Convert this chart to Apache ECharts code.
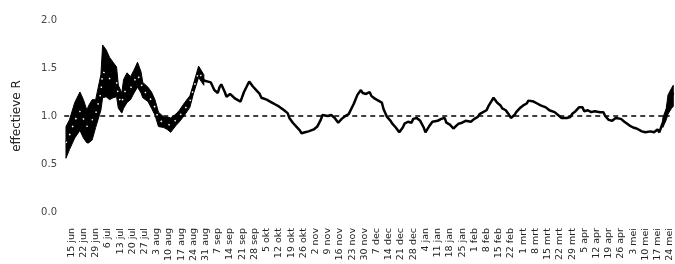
<!DOCTYPE html>
<html>
<head>
<meta charset="utf-8">
<script src="https://cdn.jsdelivr.net/npm/echarts@6/dist/echarts.min.js"></script>
<style>
  html, body { margin: 0; padding: 0; background: #fff; }
  #main { width: 675px; height: 264px; }
</style>
</head>
<body>
<div id="main"></div>
<script>
// days counted from 15 jun (day 0)
const tickLabels = ['15 jun', '22 jun', '29 jun', '6 jul', '13 jul', '20 jul', '27 jul', '3 aug', '10 aug',
  '17 aug', '24 aug', '31 aug', '7 sep', '14 sep', '21 sep', '28 sep', '5 okt', '12 okt', '19 okt', '26 okt',
  '2 nov', '9 nov', '16 nov', '23 nov', '30 nov', '7 dec', '14 dec', '21 dec', '28 dec', '4 jan', '11 jan',
  '18 jan', '25 jan', '1 feb', '8 feb', '15 feb', '22 feb', '1 mrt', '8 mrt', '15 mrt', '22 mrt', '29 mrt',
  '5 apr', '12 apr', '19 apr', '26 apr', '3 mei', '10 mei', '17 mei', '24 mei'];

const yTicks = [0, 0.5, 1, 1.5, 2];

// uncertainty band, first weeks
const bandDays = [-3, -1, 2, 5, 7, 9, 10, 12, 14, 17, 18, 20, 22, 24, 26, 27, 29, 30, 32, 34, 36, 38, 40, 41,
  44, 46, 48, 50, 53, 55, 57, 60, 62, 65, 68, 70, 73, 76];
const bandLow = [0.56, 0.65, 0.77, 0.85, 0.77, 0.72, 0.72, 0.75, 0.88, 1.06, 1.19, 1.20, 1.17, 1.19, 1.20, 1.08,
  1.03, 1.08, 1.14, 1.17, 1.24, 1.30, 1.24, 1.19, 1.15, 1.08, 1.01, 0.89, 0.88, 0.86, 0.83, 0.90, 0.94, 1.01,
  1.09, 1.23, 1.40, 1.32];
const bandHigh = [0.89, 0.96, 1.14, 1.25, 1.17, 1.06, 1.11, 1.17, 1.17, 1.43, 1.74, 1.69, 1.61, 1.56, 1.51, 1.32,
  1.24, 1.38, 1.45, 1.41, 1.48, 1.56, 1.46, 1.35, 1.30, 1.25, 1.17, 1.04, 0.99, 0.99, 0.98, 1.02, 1.06, 1.14,
  1.21, 1.33, 1.52, 1.43];

// uncertainty band, last days
const endBandDays = [339, 341, 342, 344, 345];
const endBandLow = [0.88, 0.96, 1.02, 1.08, 1.10];
const endBandHigh = [0.98, 1.08, 1.22, 1.29, 1.32];

// effective R
const rDays = [-3, -1, 2, 5, 7, 9, 10, 12, 14, 17, 18, 20, 22, 24, 26, 27, 29, 30, 32, 34, 36, 38, 40, 41,
  44, 46, 48, 50, 53, 55, 57, 60, 62, 65, 68, 70, 73, 76,
  77, 80, 82, 84, 85, 86, 88, 89, 91, 92, 94, 95, 97, 99, 102, 104, 106, 108, 109, 112, 113, 115, 117, 119,
  120, 122, 124, 125, 127, 129, 131, 132, 134, 136, 139, 141, 143, 144, 145, 147, 149, 151, 152, 153, 155,
  157, 159, 160, 162, 164, 166, 167, 169, 171, 172, 174, 176, 178, 179, 181, 183, 184, 186, 188, 190, 191,
  193, 195, 196, 198, 200, 202, 203, 205, 207, 208, 210, 212, 214, 215, 217, 219, 220, 222, 224, 226, 227,
  229, 231, 233, 234, 236, 238, 239, 241, 242, 244, 246, 247, 249, 251, 252, 254, 255, 257, 259, 261, 262,
  263, 265, 267, 269, 270, 272, 274, 275, 277, 279, 281, 282, 284, 286, 287, 289, 291, 293, 294, 296, 298,
  300, 301, 303, 305, 306, 308, 310, 312, 313, 315, 317, 318, 320, 322, 324, 325, 327, 329, 330, 332, 334,
  336, 337, 339, 341, 342, 344, 345];
const rValues = [0.72, 0.80, 0.95, 1.05, 0.97, 0.89, 0.91, 0.96, 1.02, 1.24, 1.46, 1.44, 1.39, 1.37, 1.35, 1.20,
  1.13, 1.23, 1.29, 1.29, 1.36, 1.43, 1.35, 1.27, 1.22, 1.16, 1.09, 0.96, 0.93, 0.92, 0.90, 0.96, 1.00, 1.07,
  1.15, 1.28, 1.46, 1.37,
  1.36, 1.35, 1.27, 1.24, 1.30, 1.33, 1.25, 1.20, 1.23, 1.22, 1.18, 1.16, 1.15, 1.25, 1.36, 1.31, 1.27, 1.23,
  1.19, 1.17, 1.15, 1.14, 1.12, 1.10, 1.08, 1.06, 1.03, 0.98, 0.93, 0.89, 0.85, 0.82, 0.83, 0.84, 0.86, 0.89,
  0.96, 1.01, 0.99, 1.00, 1.01, 0.98, 0.96, 0.93, 0.97, 1.00, 1.02, 1.04, 1.13, 1.22, 1.27, 1.24, 1.23, 1.25,
  1.21, 1.18, 1.16, 1.14, 1.07, 0.99, 0.95, 0.92, 0.88, 0.83, 0.88, 0.92, 0.94, 0.93, 0.97, 0.98, 0.95, 0.88,
  0.83, 0.89, 0.94, 0.93, 0.95, 0.97, 0.98, 0.93, 0.91, 0.87, 0.89, 0.92, 0.93, 0.95, 0.96, 0.94, 0.97, 0.99,
  1.02, 1.04, 1.06, 1.10, 1.16, 1.19, 1.14, 1.11, 1.08, 1.06, 1.01, 0.98, 1.01, 1.04, 1.08, 1.11, 1.13, 1.16,
  1.18, 1.15, 1.13, 1.11, 1.12, 1.09, 1.06, 1.06, 1.04, 1.01, 0.98, 0.98, 0.98, 0.99, 1.02, 1.05, 1.09, 1.09,
  1.05, 1.06, 1.04, 1.05, 1.06, 1.04, 1.04, 1.00, 0.96, 0.95, 0.98, 1.00, 0.97, 0.94, 0.92, 0.90, 0.88, 0.87,
  0.86, 0.84, 0.83, 0.85, 0.84, 0.83, 0.86, 0.83, 0.93, 1.02, 1.12, 1.20, 1.24];

const refDays = [-4, 343];
const refValue = 1;

const chart = echarts.init(document.getElementById('main'));

const pairs = (xs, ys) => xs.map((x, i) => [x, ys[i]]);

// band drawn as one polygon: upper edge left to right, lower edge back
function bandSeries(xs, lo, hi) {
  return {
    type: 'custom',
    silent: true,
    z: 1,
    data: pairs(xs, hi),
    renderItem: (params, api) => {
      if (params.dataIndex !== 0) return null;
      const upper = xs.map((x, i) => api.coord([x, hi[i]]));
      const lower = xs.map((x, i) => api.coord([x, lo[i]])).reverse();
      return {
        type: 'polygon',
        shape: { points: upper.concat(lower) },
        style: { fill: '#000', stroke: '#000', lineWidth: 1 }
      };
    }
  };
}

const bandEnd = bandDays[bandDays.length - 1];
const midDays = rDays.filter(d => d <= bandEnd);

chart.setOption({
  animation: false,
  textStyle: { fontFamily: 'DejaVu Sans, sans-serif' },
  grid: { left: 59, right: 0, top: 20, bottom: 52 },
  xAxis: {
    type: 'value', min: -7, max: 346, interval: 7,
    axisLine: { show: false }, axisTick: { show: false }, splitLine: { show: false },
    axisLabel: {
      rotate: 90, margin: 16, fontSize: 9.5, color: '#222',
      showMinLabel: false,
      formatter: v => (v >= 0 && v % 7 === 0 && tickLabels[v / 7]) ? tickLabels[v / 7] : ''
    }
  },
  yAxis: {
    type: 'value', min: yTicks[0], max: yTicks[yTicks.length - 1], interval: 0.5,
    name: 'effectieve R', nameLocation: 'middle', nameGap: 36,
    nameTextStyle: { fontSize: 12, color: '#222' },
    axisLine: { show: false }, axisTick: { show: false }, splitLine: { show: false },
    axisLabel: { fontSize: 10, color: '#444', margin: 2, formatter: v => v.toFixed(1) }
  },
  series: [
    bandSeries(bandDays, bandLow, bandHigh),
    bandSeries(endBandDays, endBandLow, endBandHigh),
    {
      name: 'ref', type: 'line', data: refDays.map(d => [d, refValue]), symbol: 'none',
      lineStyle: { color: '#000', width: 1.5, type: [5, 4] }, z: 2
    },
    {
      name: 'R', type: 'line', data: pairs(rDays, rValues), symbol: 'none',
      lineStyle: { color: '#000', width: 2.5 }, z: 3
    },
    {
      name: 'R-mid', type: 'line', data: pairs(midDays, rValues.slice(0, midDays.length)), symbol: 'none',
      lineStyle: { color: '#fff', width: 1.5, type: [1.5, 7] }, z: 4
    }
  ]
});
</script>
</body>
</html>
